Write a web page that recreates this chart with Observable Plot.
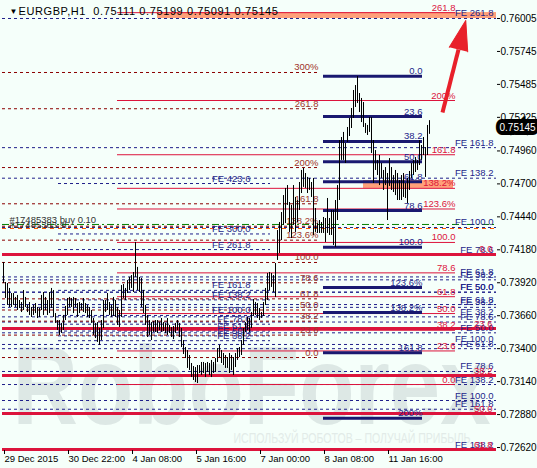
<!DOCTYPE html>
<html><head><meta charset="utf-8">
<script src="https://cdn.jsdelivr.net/npm/d3@7"></script>
<script src="https://cdn.jsdelivr.net/npm/@observablehq/plot@0.6"></script>
<style>
html,body{margin:0;padding:0;background:#f5fffa;}
#chart{width:537px;height:468px;overflow:hidden;}
svg{display:block}
</style></head><body><div id="chart"></div>
<script>
// ---- Chart header ----
const symbolTitle = "EURGBP,H1\u00a0\u00a00.75111 0.75199 0.75091 0.75145";
const lastClose = 0.75145;

// ---- Time axis (bar index of each label) ----
const timeTickBars = [0, 32, 64, 96, 128, 160, 192];
const timeTickLabels = ["29 Dec 2015","30 Dec 22:00","4 Jan 08:00","5 Jan 16:00","7 Jan 00:00","8 Jan 08:00","11 Jan 16:00"];

// ---- Price axis labels ----
const priceTicks = [0.76005,0.75745,0.75485,0.75225,0.74960,0.74700,0.74440,0.74180,0.73920,0.73660,0.73400,0.73140,0.72880,0.72620];

// ---- H1 bars: highs and lows ----
const barHigh = [
0.74080,0.73922,0.73914,0.73875,0.73835,0.73835,0.73804,0.73820,0.73780,0.73764,
0.73859,0.73804,0.73741,0.73764,0.73725,0.73741,0.73756,0.73725,0.73717,0.73820,
0.73843,0.73804,0.73780,0.73843,0.73875,0.73859,0.73677,0.73622,0.73622,0.73599,
0.73662,0.73733,0.73796,0.73804,0.73796,0.73804,0.73796,0.73756,0.73764,0.73756,
0.73796,0.73756,0.73741,0.73725,0.73701,0.73638,0.73599,0.73606,0.73559,0.73622,
0.73780,0.73780,0.73835,0.73764,0.73741,0.73804,0.73780,0.73725,0.73701,0.73898,
0.73906,0.73875,0.73938,0.73962,0.73977,0.74001,0.74238,0.74041,0.73962,0.73954,
0.73859,0.73741,0.73662,0.73622,0.73606,0.73614,0.73622,0.73622,0.73606,0.73638,
0.73606,0.73599,0.73638,0.73583,0.73567,0.73575,0.73599,0.73622,0.73599,0.73559,
0.73464,0.73409,0.73385,0.73346,0.73283,0.73259,0.73251,0.73267,0.73267,0.73291,
0.73291,0.73283,0.73291,0.73283,0.73307,0.73291,0.73322,0.73401,0.73425,0.73385,
0.73362,0.73346,0.73330,0.73362,0.73346,0.73330,0.73362,0.73401,0.73409,0.73464,
0.73559,0.73606,0.73646,0.73638,0.73685,0.73788,0.73764,0.73756,0.73717,0.73685,
0.73764,0.73875,0.73993,0.74001,0.73993,0.73977,0.74072,0.74332,0.74395,0.74474,
0.74608,0.74664,0.74687,0.74553,0.74530,0.74687,0.74593,0.74569,0.74711,0.74806,
0.74822,0.74782,0.74751,0.74743,0.74711,0.74743,0.74506,0.74387,0.74411,0.74395,
0.74435,0.74427,0.74585,0.74427,0.74490,0.74490,0.74569,0.74687,0.75042,0.75066,
0.75106,0.75019,0.75145,0.75216,0.75295,0.75437,0.75476,0.75547,0.75413,0.75374,
0.75342,0.75176,0.75161,0.75224,0.75224,0.75042,0.74963,0.74885,0.74924,0.74861,
0.74806,0.74829,0.74782,0.74900,0.74829,0.74766,0.74806,0.74782,0.74727,0.74766,
0.74782,0.74703,0.74743,0.74798,0.74861,0.74885,0.74908,0.74885,0.75042,0.75003,
0.75066,0.74987,0.75161,0.75199];
const barLow = [
0.73914,0.73796,0.73741,0.73725,0.73725,0.73741,0.73725,0.73701,0.73717,0.73685,
0.73701,0.73725,0.73685,0.73662,0.73646,0.73662,0.73677,0.73638,0.73646,0.73701,
0.73662,0.73701,0.73662,0.73677,0.73717,0.73646,0.73599,0.73543,0.73504,0.73520,
0.73543,0.73622,0.73662,0.73725,0.73725,0.73677,0.73725,0.73646,0.73677,0.73701,
0.73685,0.73677,0.73646,0.73638,0.73599,0.73504,0.73480,0.73449,0.73425,0.73464,
0.73559,0.73685,0.73701,0.73662,0.73646,0.73654,0.73646,0.73583,0.73567,0.73646,
0.73796,0.73780,0.73835,0.73859,0.73875,0.73843,0.73962,0.73859,0.73843,0.73725,
0.73677,0.73583,0.73488,0.73504,0.73464,0.73528,0.73528,0.73520,0.73543,0.73528,
0.73535,0.73520,0.73504,0.73520,0.73488,0.73472,0.73520,0.73543,0.73488,0.73409,
0.73354,0.73322,0.73244,0.73228,0.73172,0.73149,0.73133,0.73125,0.73204,0.73188,
0.73204,0.73172,0.73212,0.73188,0.73172,0.73204,0.73212,0.73291,0.73330,0.73283,
0.73267,0.73244,0.73244,0.73204,0.73228,0.73188,0.73251,0.73307,0.73330,0.73346,
0.73425,0.73528,0.73543,0.73528,0.73559,0.73654,0.73662,0.73638,0.73622,0.73638,
0.73654,0.73741,0.73780,0.73859,0.73883,0.73843,0.73804,0.74096,0.74151,0.74253,
0.74372,0.74387,0.74530,0.74317,0.74269,0.74372,0.74317,0.74395,0.74490,0.74624,
0.74672,0.74664,0.74624,0.74648,0.74593,0.74293,0.74317,0.74309,0.74309,0.74309,
0.74309,0.74238,0.74309,0.74293,0.74293,0.74214,0.74198,0.74411,0.74569,0.74885,
0.74885,0.74861,0.75027,0.75074,0.75137,0.75216,0.75303,0.75334,0.75263,0.75184,
0.75145,0.75098,0.75082,0.75106,0.74940,0.74703,0.74806,0.74766,0.74687,0.74743,
0.74648,0.74687,0.74411,0.74680,0.74648,0.74632,0.74608,0.74569,0.74569,0.74569,
0.74593,0.74585,0.74545,0.74648,0.74743,0.74766,0.74790,0.74806,0.74845,0.74885,
0.74924,0.74751,0.74924,0.75091];

// ---- Fibonacci expansion (crimson, solid) ----
const fibExpLabels = ["0.0","23.6","38.2","50.0","61.8","78.6","100.0","123.6%","138.2%","161.8","200%","261.8"];
const fibExpPrices = [0.73117,0.73382,0.73545,0.73677,0.73810,0.73998,0.74238,0.74502,0.74665,0.74930,0.75358,0.76051];
const fibExpSpan = [57, 226];

// ---- Fibonacci expansion (dark red, dashed) ----
const fibExp2Labels = ["0.0","23.6","38.2","50.0","61.8","78.6","100.0","123.6%","138.2%","161.8","200%","261.8","300%"];
const fibExp2Prices = [0.73330,0.73507,0.73617,0.73705,0.73793,0.73920,0.74080,0.74256,0.74366,0.74543,0.74829,0.75293,0.75579];
const fibExp2Span = [-0.5, 157.5];

// ---- Fibonacci retracement (navy, thick) ----
const fibRetLabels = ["0.0","23.6","38.2","50.0","61.8","78.6","100.0","123.6%","138.2%","161.8","200%"];
const fibRetPrices = [0.75550,0.75231,0.75035,0.74875,0.74716,0.74490,0.74200,0.73882,0.73685,0.73367,0.72851];
const fibRetSpan = [160, 209.5];

// ---- Fibonacci retracement (crimson, thick, full width) ----
const fibWideLabels = ["0.0","23.6","38.2","50.0","61.8"];
const fibWidePrices = [0.74143,0.73559,0.73188,0.72888,0.72604];

// ---- FE tools (navy dashed, full width) ----
const feALabels = ["FE 38.2","FE 50.0","FE 61.8","FE 78.6","FE 100.0","FE 138.2","FE 161.8","FE 261.8"];
const feAPrices = [0.73726,0.73846,0.73966,0.74137,0.74356,0.74745,0.74986,0.76005];
const feGLabels = ["FE 38.2","FE 50.0","FE 61.8","FE 78.6","FE 100.0","FE 138.2","FE 161.8"];
const feGPrices = [0.73943,0.73845,0.73748,0.73610,0.73433,0.73117,0.72922];
const feHLabels = ["FE 38.2","FE 50.0","FE 61.8","FE 78.6","FE 100.0","FE 138.2"];
const feHPrices = [0.73651,0.73525,0.73400,0.73220,0.72991,0.72600];
const fullSpan = [-0.5, 246.5];

// ---- FE tool (navy dashed, short) ----
const feELabels = ["FE 38.2","FE 50.0","FE 61.8","FE 78.6","FE 100.0","FE 138.2","FE 161.8","FE 261.8","FE 300,0","FE 423,6"];
const feEPrices = [0.73463,0.73501,0.73539,0.73593,0.73662,0.73785,0.73860,0.74182,0.74305,0.74703];
const feESpan = [27.5, 133.5];
const feELabelBar = 123.5;

// ---- Zones ----
const zoneBars = [[77, 246.5], [180, 225]];
const zonePrices = [[0.76005, 0.76052], [0.74664, 0.74727]];

// ---- Order ----
const orderId = "#17485383";
const orderPrice = 0.74380, orderLots = 0.10, stopPrice = 0.74348;

// ---- Arrow (tail, head base) ----
const arrowBars = [219.5, 227.5];
const arrowPrices = [0.75263, 0.75760];

// ---- styling ----
const NAVY = "#191970", NAVYD = "#1f1f8a", CRIM = "#dc143c", DRED = "#8b0000", DREDT = "#a0352a";
const fmt = d3.format(".5f");
const bars = barHigh.map((h, i) => ({i, hi: h, lo: barLow[i]}));
const lv = (labels, prices, span, lx) => labels.map((l, k) => ({label: l, price: prices[k], x1: span[0], x2: span[1], lx: lx ?? span[1]}));
const fibExp = lv(fibExpLabels, fibExpPrices, fibExpSpan);
const fibExp2 = lv(fibExp2Labels, fibExp2Prices, fibExp2Span);
const fibRet = lv(fibRetLabels, fibRetPrices, fibRetSpan);
const fibWide = lv(fibWideLabels, fibWidePrices, fullSpan, 244.5);
const feFull = [...lv(feALabels, feAPrices, fullSpan, 245), ...lv(feGLabels, feGPrices, fullSpan, 245), ...lv(feHLabels, feHPrices, fullSpan, 245)];
const feE = lv(feELabels, feEPrices, feESpan, feELabelBar);
const zones = zoneBars.map((b, k) => ({x1: b[0], x2: b[1], y1: zonePrices[k][0], y2: zonePrices[k][1]}));
const arrow = [{x1: arrowBars[0], y1: arrowPrices[0], x2: arrowBars[1], y2: arrowPrices[1]}];
const FONT = "Liberation Sans, Arial, sans-serif";

const lbl = (data, fill, extra = {}) => Plot.text(data, {x: "lx", y: "price", text: "label", textAnchor: "end", lineAnchor: "bottom", dy: -2, fill, fontSize: 9.5, ...extra});

const plot = Plot.plot({
  width: 537, height: 468,
  marginLeft: 2, marginRight: 41, marginTop: 0, marginBottom: 18,
  style: {background: "#f5fffa", fontFamily: FONT, fontSize: "9px", color: "black", overflow: "visible"},
  x: {domain: [-0.5, 246.5]},
  y: {domain: [0.725965, 0.761470]},
  marks: [
    Plot.text(["RoboForex"], {frameAnchor: "bottom-left", dx: 10, dy: -27, lineAnchor: "bottom", textAnchor: "start", fontSize: 112, fontWeight: "bold", fill: "#dde8e5"}),
    Plot.text(["ИСПОЛЬЗУЙ РОБОТОВ – ПОЛУЧАЙ ПРИБЫЛЬ"], {frameAnchor: "bottom-left", dx: 231, dy: -8, lineAnchor: "bottom", textAnchor: "start", fontSize: 14, fill: "#e2ebe8"}),
    Plot.rect(zones, {x1: "x1", x2: "x2", y1: "y1", y2: "y2", fill: "#ffa07a"}),
    Plot.ruleY(feFull, {y: "price", x1: "x1", x2: "x2", stroke: NAVYD, strokeDasharray: "3,3"}),
    Plot.ruleY(feE, {y: "price", x1: "x1", x2: "x2", stroke: NAVYD, strokeDasharray: "3,3"}),
    Plot.ruleY(fibExp2, {y: "price", x1: "x1", x2: "x2", stroke: DRED, strokeDasharray: "3,3"}),
    Plot.ruleY(fibWide, {y: "price", x1: "x1", x2: "x2", stroke: CRIM, strokeWidth: 3}),
    Plot.ruleY(fibExp, {y: "price", x1: "x1", x2: "x2", stroke: CRIM}),
    Plot.ruleY(fibRet, {y: "price", x1: "x1", x2: "x2", stroke: NAVY, strokeWidth: 3}),
    Plot.ruleY([orderPrice], {stroke: "#008000", strokeDasharray: "7,3,2,3"}),
    Plot.ruleY([stopPrice], {stroke: "#ff5a00", strokeDasharray: "4,4"}),
    lbl(feFull, NAVYD),
    lbl(feE, NAVYD),
    lbl(fibExp2, DREDT),
    lbl(fibWide, CRIM),
    lbl(fibExp, CRIM),
    lbl(fibRet, NAVYD),
    Plot.text([`${orderId} sl`], {x: 3, y: stopPrice, textAnchor: "start", lineAnchor: "bottom", dy: -1, fill: "#333", fontSize: 9.5}),
    Plot.text([`${orderId} buy ${orderLots.toFixed(2)}`], {x: 3, y: orderPrice, textAnchor: "start", lineAnchor: "bottom", dy: -1, fill: "#333", fontSize: 9.5}),
    Plot.ruleX(bars, {x: "i", y1: "lo", y2: "hi", stroke: "black"}),
    Plot.link(arrow, {x1: "x1", y1: "y1", x2: "x2", y2: "y2", stroke: "#e8202a", strokeWidth: 4}),
    Plot.vector(arrow, {x: "x2", y: "y2", length: 30, rotate: 14, r: 9.5, shape: "spike", anchor: "start", fill: "#e8202a", stroke: "#e8202a", strokeWidth: 1}),
    Plot.axisX({anchor: "bottom", ticks: timeTickBars, tickFormat: d => timeTickLabels[timeTickBars.indexOf(d)], tickSize: 4, tickPadding: 1, textAnchor: "start", dx: 1, fontSize: 9.5, line: true, label: null}),
    Plot.axisY({anchor: "right", ticks: priceTicks, tickFormat: fmt, tickSize: 3, tickPadding: 1, fontSize: 10, line: true, label: null}),
    Plot.axisY({anchor: "left", ticks: [], line: true, label: null}),
    Plot.text(["▼"], {frameAnchor: "top-left", dx: 7, dy: 13, lineAnchor: "bottom", fontSize: 8, fill: "black"}),
    Plot.text([symbolTitle], {frameAnchor: "top-left", dx: 16, dy: 14, lineAnchor: "bottom", textAnchor: "start", fontSize: 11, fill: "black"}),
    Plot.text([lastClose], {y: d => d, frameAnchor: "right", text: d => fmt(d), dx: 3, textAnchor: "start", fontSize: 10, fill: "white", stroke: "black", strokeWidth: 8, strokeLinejoin: "miter", paintOrder: "stroke"})
  ]
});
plot.querySelectorAll("text").forEach(t => {
  if (t.textContent === "RoboForex") { t.setAttribute("textLength", 478); t.setAttribute("lengthAdjust", "spacingAndGlyphs"); }
  if (t.textContent.startsWith("ИСПОЛЬЗУЙ")) { t.setAttribute("textLength", 237); t.setAttribute("lengthAdjust", "spacingAndGlyphs"); }
  if (t.textContent.startsWith("EURGBP")) { t.style.letterSpacing = "0.6px"; }
});
document.getElementById("chart").appendChild(plot);
</script></body></html>
